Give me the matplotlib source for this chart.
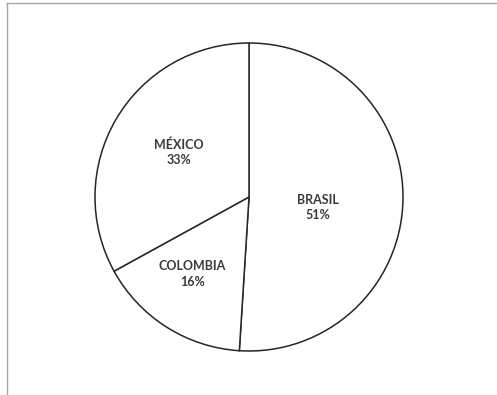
"""Pie chart: share by country (Brasil, Colombia, México)."""

import matplotlib

matplotlib.use("Agg")
import matplotlib.pyplot as plt
import numpy as np
from matplotlib.lines import Line2D

countries = ["BRASIL", "COLOMBIA", "MÉXICO"]
shares = [51, 16, 33]

W, H = 497, 395
fig = plt.figure(figsize=(W / 100, H / 100), dpi=100)
fig.patch.set_facecolor("white")

# pie axes: centre (249, 197) px, radius 154 px
cx, cy, r = 249, 197, 154
ax = fig.add_axes([(cx - r) / W, 1 - (cy + r) / H, 2 * r / W, 2 * r / H])
wedges, _ = ax.pie(
    shares,
    startangle=90,
    counterclock=False,
    colors=["white"] * len(shares),
    wedgeprops={"edgecolor": "#262626", "linewidth": 1.1},
    radius=1.0,
)
ax.set_xlim(-1, 1)
ax.set_ylim(-1, 1)
ax.set_aspect("equal")
ax.axis("off")

# label placement (fraction of radius, angle offset in deg) per wedge
label_r = [0.45, 0.62, 0.54]
label_dang = [-7, -4, -2]
for w, name, val, lr, da in zip(wedges, countries, shares, label_r, label_dang):
    ang = np.deg2rad((w.theta1 + w.theta2) / 2 + da)
    ax.text(
        lr * np.cos(ang),
        lr * np.sin(ang),
        f"{name}\n{val}%",
        ha="center",
        va="center",
        fontsize=9,
        fontweight="bold",
        family=["Lato", "DejaVu Sans"],
        color="#3a3a3a",
        linespacing=1.35,
    )

# chart-area frame (right and bottom edges fall outside the crop)
fig.add_artist(Line2D([7 / W, 7 / W], [0, 1 - 3 / H], color="#a6a6a6", lw=1.0,
                      transform=fig.transFigure))
fig.add_artist(Line2D([7 / W, 1], [1 - 3 / H, 1 - 3 / H], color="#a6a6a6", lw=1.0,
                      transform=fig.transFigure))

fig.savefig("out.png", dpi=100)
